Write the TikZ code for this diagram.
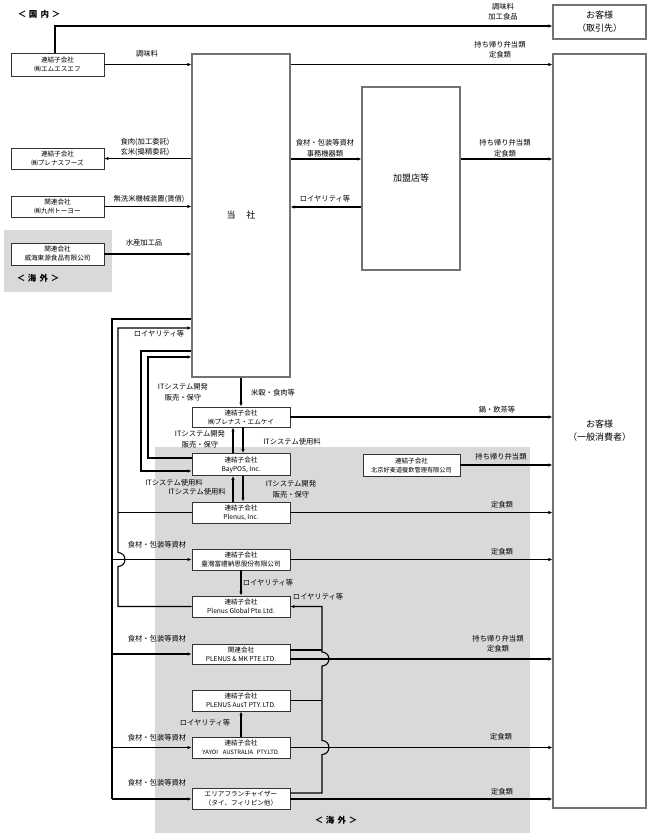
\documentclass[tikz,border=0pt]{standalone}
\usepackage{fontspec}
\setmainfont{Noto Sans CJK JP}
\usetikzlibrary{arrows.meta}
\begin{document}
\begin{tikzpicture}[x=1pt,y=-1pt,
  conn/.style={line width=1.1pt},
  arr/.style={conn, -{Latex[length=4pt,width=3.4pt]}},
  box/.style={draw=black!80, line width=0.8pt, fill=white, inner sep=0pt, align=center, font=\fontsize{6.6}{9}\selectfont},
  lbl/.style={inner sep=0pt, align=center, font=\fontsize{7.3}{10.5}\selectfont},
  big/.style={draw=black!55, line width=1.1pt, fill=white, inner sep=0pt, align=center, font=\fontsize{9}{13}\selectfont},
  hdr/.style={inner sep=0pt, font=\bfseries\fontsize{8.5}{10}\selectfont}]
\useasboundingbox (0,0) rectangle (648,835);
% gray areas
\fill[gray!30] (4,230) rectangle (112,292);
\fill[gray!30] (155,447) rectangle (530,833);

% helper coordinates
\coordinate (X233) at (233,0);
\coordinate (X243) at (243,0);
\coordinate (X322) at (322,0);
\coordinate (Y159) at (0,159);
\coordinate (Y207) at (0,207);
\coordinate (Y458) at (0,458);
\coordinate (Y471) at (0,471);
\coordinate (Y650) at (0,650);
\coordinate (Y659) at (0,659);
\coordinate (Y793) at (0,793);
\coordinate (Y799) at (0,799);

% big boxes
\node[big, minimum width=98pt, minimum height=323pt] (hq) at (241,215.5) {当\hspace{1.2em}社};
\node[big, minimum width=98pt, minimum height=183pt] (fc) at (411,178.5) {加盟店等};
\node[big, minimum width=93pt, minimum height=754pt] (cons) at (599.5,431) {お客様\\（一般消費者）};
\node[big, minimum width=93pt, minimum height=34pt] (client) at (599.5,22) {お客様\\（取引先）};

% left boxes
\node[box, minimum width=93pt, minimum height=23pt] (msf) at (57.5,64.5) {連結子会社\\㈱エムエスエフ};
\node[box, minimum width=93pt, minimum height=21pt] (foods) at (57.5,158.5) {連結子会社\\㈱プレナスフーズ};
\node[box, minimum width=93pt, minimum height=21pt] (toyo) at (57.5,206.5) {関連会社\\㈱九州トーヨー};
\node[box, minimum width=93pt, minimum height=22pt] (weihai) at (57.5,254) {関連会社\\威海東源食品有限公司};

% center column boxes
\node[box, minimum width=98pt, minimum height=20pt] (mk) at (241,417) {連結子会社\\㈱プレナス・エムケイ};
\node[box, minimum width=98pt, minimum height=22pt] (baypos) at (241,464.5) {連結子会社\\BayPOS, Inc.};
\node[box, minimum width=98pt, minimum height=21pt] (plenusinc) at (241,512.5) {連結子会社\\Plenus, Inc.};
\node[box, minimum width=98pt, minimum height=21pt] (taiwan) at (241,559.5) {連結子会社\\臺灣富禮納思股份有限公司};
\node[box, minimum width=98pt, minimum height=21pt] (global) at (241,606.5) {連結子会社\\Plenus Global Pte.Ltd.};
\node[box, minimum width=98pt, minimum height=20pt] (plmk) at (241,654) {関連会社\\PLENUS \& MK PTE.LTD.};
\node[box, minimum width=98pt, minimum height=21pt] (aust) at (241,700.5) {連結子会社\\PLENUS AusT PTY. LTD.};
\node[box, minimum width=98pt, minimum height=21pt] (yayoi) at (241,747.5) {連結子会社\\{\fontsize{5.9}{9}\selectfont YAYOI\hspace{0.8em}AUSTRALIA\hspace{0.6em}PTY.LTD.}};
\node[box, minimum width=98pt, minimum height=21pt] (area) at (241,798.5) {エリアフランチャイザー\\（タイ、フィリピン他）};
\node[box, minimum width=97pt, minimum height=22pt] (beijing) at (411.5,465) {連結子会社\\{\fontsize{6.2}{9}\selectfont 北京好麦道餐飲管理有限公司}};

% headers
\node[hdr] (hdom) at (39,14) {＜\hspace{0.3em}国\hspace{0.4em}内\hspace{0.3em}＞};
\node[hdr] (hov1) at (38,278) {＜\hspace{0.3em}海\hspace{0.4em}外\hspace{0.3em}＞};
\node[hdr] (hov2) at (336,820) {＜\hspace{0.3em}海\hspace{0.4em}外\hspace{0.3em}＞};

% ---- connectors ----
\coordinate (c1) at (55,26);
\draw[arr] (msf.north -| c1) -- (c1) -- (client.west |- c1);
\draw[arr] (msf.east) -- (hq.west |- msf.east);
\draw[arr] (hq.east |- msf.east) -- (cons.west |- msf.east);
\draw[arr] (hq.west |- foods.east) -- (foods.east);
\draw[arr] (toyo.east) -- (hq.west |- toyo.east);
\draw[arr] (weihai.east) -- (hq.west |- weihai.east);
\draw[arr] (hq.east |- Y159) -- (fc.west |- Y159);
\draw[arr] (fc.west |- Y207) -- (hq.east |- Y207);
\draw[arr] (fc.east |- Y159) -- (cons.west |- Y159);
\draw[arr] (hq.south) -- (mk.north);
\draw[arr] (mk.east) -- (cons.west |- mk.east);
\draw[arr] (baypos.north -| X233) -- (mk.south -| X233);
\draw[arr] (mk.south -| X243) -- (baypos.north -| X243);
\draw[arr] (plenusinc.north -| X233) -- (baypos.south -| X233);
\draw[arr] (baypos.south -| X243) -- (plenusinc.north -| X243);
\draw[arr] (beijing.east) -- (cons.west |- beijing.east);
\draw[arr] (plenusinc.east) -- (cons.west |- plenusinc.east);
\draw[arr] (taiwan.east) -- (cons.west |- taiwan.east);
\draw[arr] (plmk.east |- Y659) -- (cons.west |- Y659);
\draw[arr] (yayoi.east) -- (cons.west |- yayoi.east);
\draw[arr] (area.east |- Y799) -- (cons.west |- Y799);
\draw[arr] (taiwan.south) -- (global.north);
\draw[arr] (yayoi.north) -- (aust.south);

% left outer supply line (x=112)
\coordinate (o1) at (112,319);
\coordinate (o2) at (112,799);
\draw[conn] (hq.west |- o1) -- (o1) -- (o2);
\draw[arr] (o2) -- (area.west |- o2);
\draw[arr] (taiwan.west -| o1) -- (taiwan.west);
\draw[arr] (plmk.west -| o1) -- (plmk.west);
\draw[arr] (yayoi.west -| o1) -- (yayoi.west);

% royalty line (x=118)
\coordinate (r1) at (118,328);
\draw[arr] (global.west) -- (global.west -| r1) -- (118,566.5)
  arc[start angle=90, end angle=-90, radius=7] -- (r1) -- (hq.west |- r1);
\draw[conn] (plenusinc.west) -- (plenusinc.west -| r1);

% inner IT loop
\coordinate (i1) at (141,351);
\coordinate (i2) at (148,357);
\draw[arr] (hq.west |- i1) -- (i1) -- (i1 |- Y471) -- (baypos.west |- Y471);
\draw[arr] (baypos.west |- Y458) -- (i2 |- Y458) -- (i2) -- (hq.west |- i2);

% right royalty line (x=322)
\coordinate (q1) at (322,793);
\draw[arr] (area.east |- Y793) -- (q1) -- (322,754.5)
  arc[start angle=90, end angle=-90, radius=7] -- (322,666)
  arc[start angle=90, end angle=-90, radius=7] -- (global.east -| X322) -- (global.east);
\draw[conn] (plmk.east |- Y650) -- (X322 |- Y650);
\draw[conn] (aust.east) -- (aust.east -| X322);

% ---- labels ----
\node[lbl] (l1) at (503,11.5) {調味料\\加工食品};
\node[lbl] (l2) at (147,54) {調味料};
\node[lbl] (l3) at (500,49.5) {持ち帰り弁当類\\定食類};
\node[lbl] (l4) at (145,147) {食肉(加工委託)\\玄米(搗精委託)};
\node[lbl] (l5) at (149,199) {無洗米機械装置(賃借)};
\node[lbl] (l6) at (144,243) {水産加工品};
\node[lbl] (l7) at (325,148) {食材・包装等資材\\事務機器類};
\node[lbl] (l8) at (325,199) {ロイヤリティ等};
\node[lbl] (l9) at (505,148) {持ち帰り弁当類\\定食類};
\node[lbl] (l10) at (159,334) {ロイヤリティ等};
\node[lbl] (l11) at (183,392) {ITシステム開発\\販売・保守};
\node[lbl] (l12) at (273,393) {米穀・食肉等};
\node[lbl] (l13) at (497,410) {鍋・飲茶等};
\node[lbl] (l14) at (200,439) {ITシステム開発\\販売・保守};
\node[lbl] (l15) at (292,442) {ITシステム使用料};
\node[lbl] (l16) at (501,457) {持ち帰り弁当類};
\node[lbl] (l17) at (174,483) {ITシステム使用料};
\node[lbl] (l18) at (197,492) {ITシステム使用料};
\node[lbl] (l19) at (291,489) {ITシステム開発\\販売・保守};
\node[lbl] (l20) at (502,505) {定食類};
\node[lbl] (l21) at (157,545) {食材・包装等資材};
\node[lbl] (l22) at (502,552) {定食類};
\node[lbl] (l23) at (268,583) {ロイヤリティ等};
\node[lbl] (l24) at (318,597) {ロイヤリティ等};
\node[lbl] (l25) at (157,639) {食材・包装等資材};
\node[lbl] (l26) at (498,643.5) {持ち帰り弁当類\\定食類};
\node[lbl] (l27) at (205,723) {ロイヤリティ等};
\node[lbl] (l28) at (157,738) {食材・包装等資材};
\node[lbl] (l29) at (501,737) {定食類};
\node[lbl] (l30) at (157,783) {食材・包装等資材};
\node[lbl] (l31) at (502,792) {定食類};
\end{tikzpicture}
\end{document}
